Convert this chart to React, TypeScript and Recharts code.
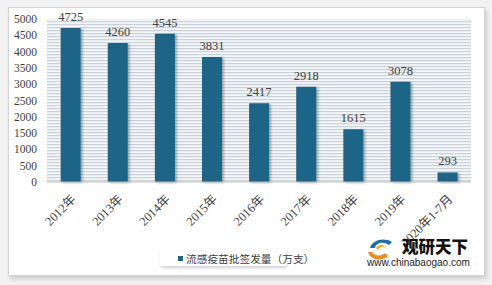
import React from 'react';
import { BarChart, Bar, XAxis, YAxis, CartesianGrid, LabelList } from 'recharts';

const categories = ['2012年', '2013年', '2014年', '2015年', '2016年', '2017年', '2018年', '2019年', '2020年1-7月'];
const values = [4725, 4260, 4545, 3831, 2417, 2918, 1615, 3078, 293];
const yTicks = [0, 500, 1000, 1500, 2000, 2500, 3000, 3500, 4000, 4500, 5000];
const seriesName = '流感疫苗批签发量（万支）';

const data = categories.map((c, i) => ({ name: c, value: values[i] }));

const serif = '"Liberation Serif", "DejaVu Serif", "Noto Sans CJK SC", serif';
const sans = '"Noto Sans CJK SC", "Noto Sans", sans-serif';
const barColor = '#1b6587';

const XTick = (props: any) => {
  const { x, y, payload } = props;
  const ax = x + 6;
  const ay = y + 10;
  return (
    <text
      x={ax}
      y={ay}
      textAnchor="end"
      fontSize={12.5}
      fontFamily={serif}
      fill="#404040"
      transform={`rotate(-45, ${ax}, ${ay})`}
    >
      {payload.value}
    </text>
  );
};

export default function App() {
  return (
    <div style={{ position: 'absolute', left: 0, top: 0, width: 492, height: 285, background: '#f2f2f2', overflow: 'hidden' }}>
      <div
        style={{
          position: 'absolute',
          left: 8,
          top: 7,
          width: 475,
          height: 267,
          background: '#fff',
          border: '1px solid #d4d4d4',
          boxShadow: '2px 3px 4px rgba(0,0,0,0.15)',
        }}
      />
      <div style={{ position: 'absolute', left: 0, top: 0 }}>
        <BarChart width={492} height={285} data={data} margin={{ top: 19, right: 21, left: 0, bottom: 0 }} barCategoryGap="29%">
          <defs>
            <pattern id="stripes" width="4" height="3" patternUnits="userSpaceOnUse">
              <rect x="0" y="0" width="4" height="3" fill="#f3f5f7" />
              <rect x="0" y="0" width="4" height="1.2" fill="#c9d3db" />
            </pattern>
            <filter id="barShadow" x="-30%" y="-10%" width="170%" height="130%">
              <feDropShadow dx="2" dy="1" stdDeviation="1.2" floodColor="#000" floodOpacity="0.3" />
            </filter>
          </defs>
          <CartesianGrid fill="url(#stripes)" horizontal={false} vertical={false} />
          <YAxis
            width={47}
            domain={[0, 5000]}
            ticks={yTicks}
            axisLine={false}
            tickLine={false}
            interval={0}
            tick={{ fontSize: 11.5, fontFamily: serif, fill: '#404040' }}
            tickMargin={4}
          />
          <XAxis
            dataKey="name"
            height={103}
            interval={0}
            axisLine={{ stroke: '#bfbfbf' }}
            tickLine={false}
            tick={<XTick />}
          />
          <Bar dataKey="value" name={seriesName} fill={barColor} isAnimationActive={false} style={{ filter: 'url(#barShadow)' }}>
            <LabelList dataKey="value" position="top" offset={7} fontSize={12.5} fontFamily={serif} fill="#404040" />
          </Bar>
        </BarChart>
      </div>
      <div
        style={{
          position: 'absolute',
          left: 160,
          top: 249,
          width: 126,
          background: '#fff',
          boxShadow: '1px 2px 3px rgba(0,0,0,0.18)',
          height: 17,
        }}
      />
      <div
        style={{
          position: 'absolute',
          left: 178,
          top: 249,
          display: 'flex',
          alignItems: 'center',
          fontFamily: sans,
          fontSize: 10.7,
          color: '#404040',
          height: 18,
          whiteSpace: 'nowrap',
        }}
      >
        <span style={{ display: 'inline-block', width: 5, height: 5, background: barColor, marginRight: 3 }} />
        {seriesName}
      </div>
      <svg style={{ position: 'absolute', left: 366, top: 234 }} width={112} height={36}>
        <path d="M4 14 C6 6, 18 3, 26 8 L23 11 C17 7, 10 9, 9 14 Z" fill="#1d6fb0" />
        <path d="M2 18 C4 26, 16 28, 22 22 L19 19 C14 23, 8 22, 6 18 Z" fill="#f08a1d" />
        <path d="M10 14 C12 10, 18 10, 20 14 C18 12, 14 12, 12 16 Z" fill="#f5a623" />
        <text x={36} y={19} fontSize={16.5} fontWeight={900} fontFamily={sans} fill="#111">观研天下</text>
        <text x={1} y={32} fontSize={10} fontFamily='"Liberation Sans", Arial, sans-serif' fill="#222">www.chinabaogao.com</text>
      </svg>
    </div>
  );
}
